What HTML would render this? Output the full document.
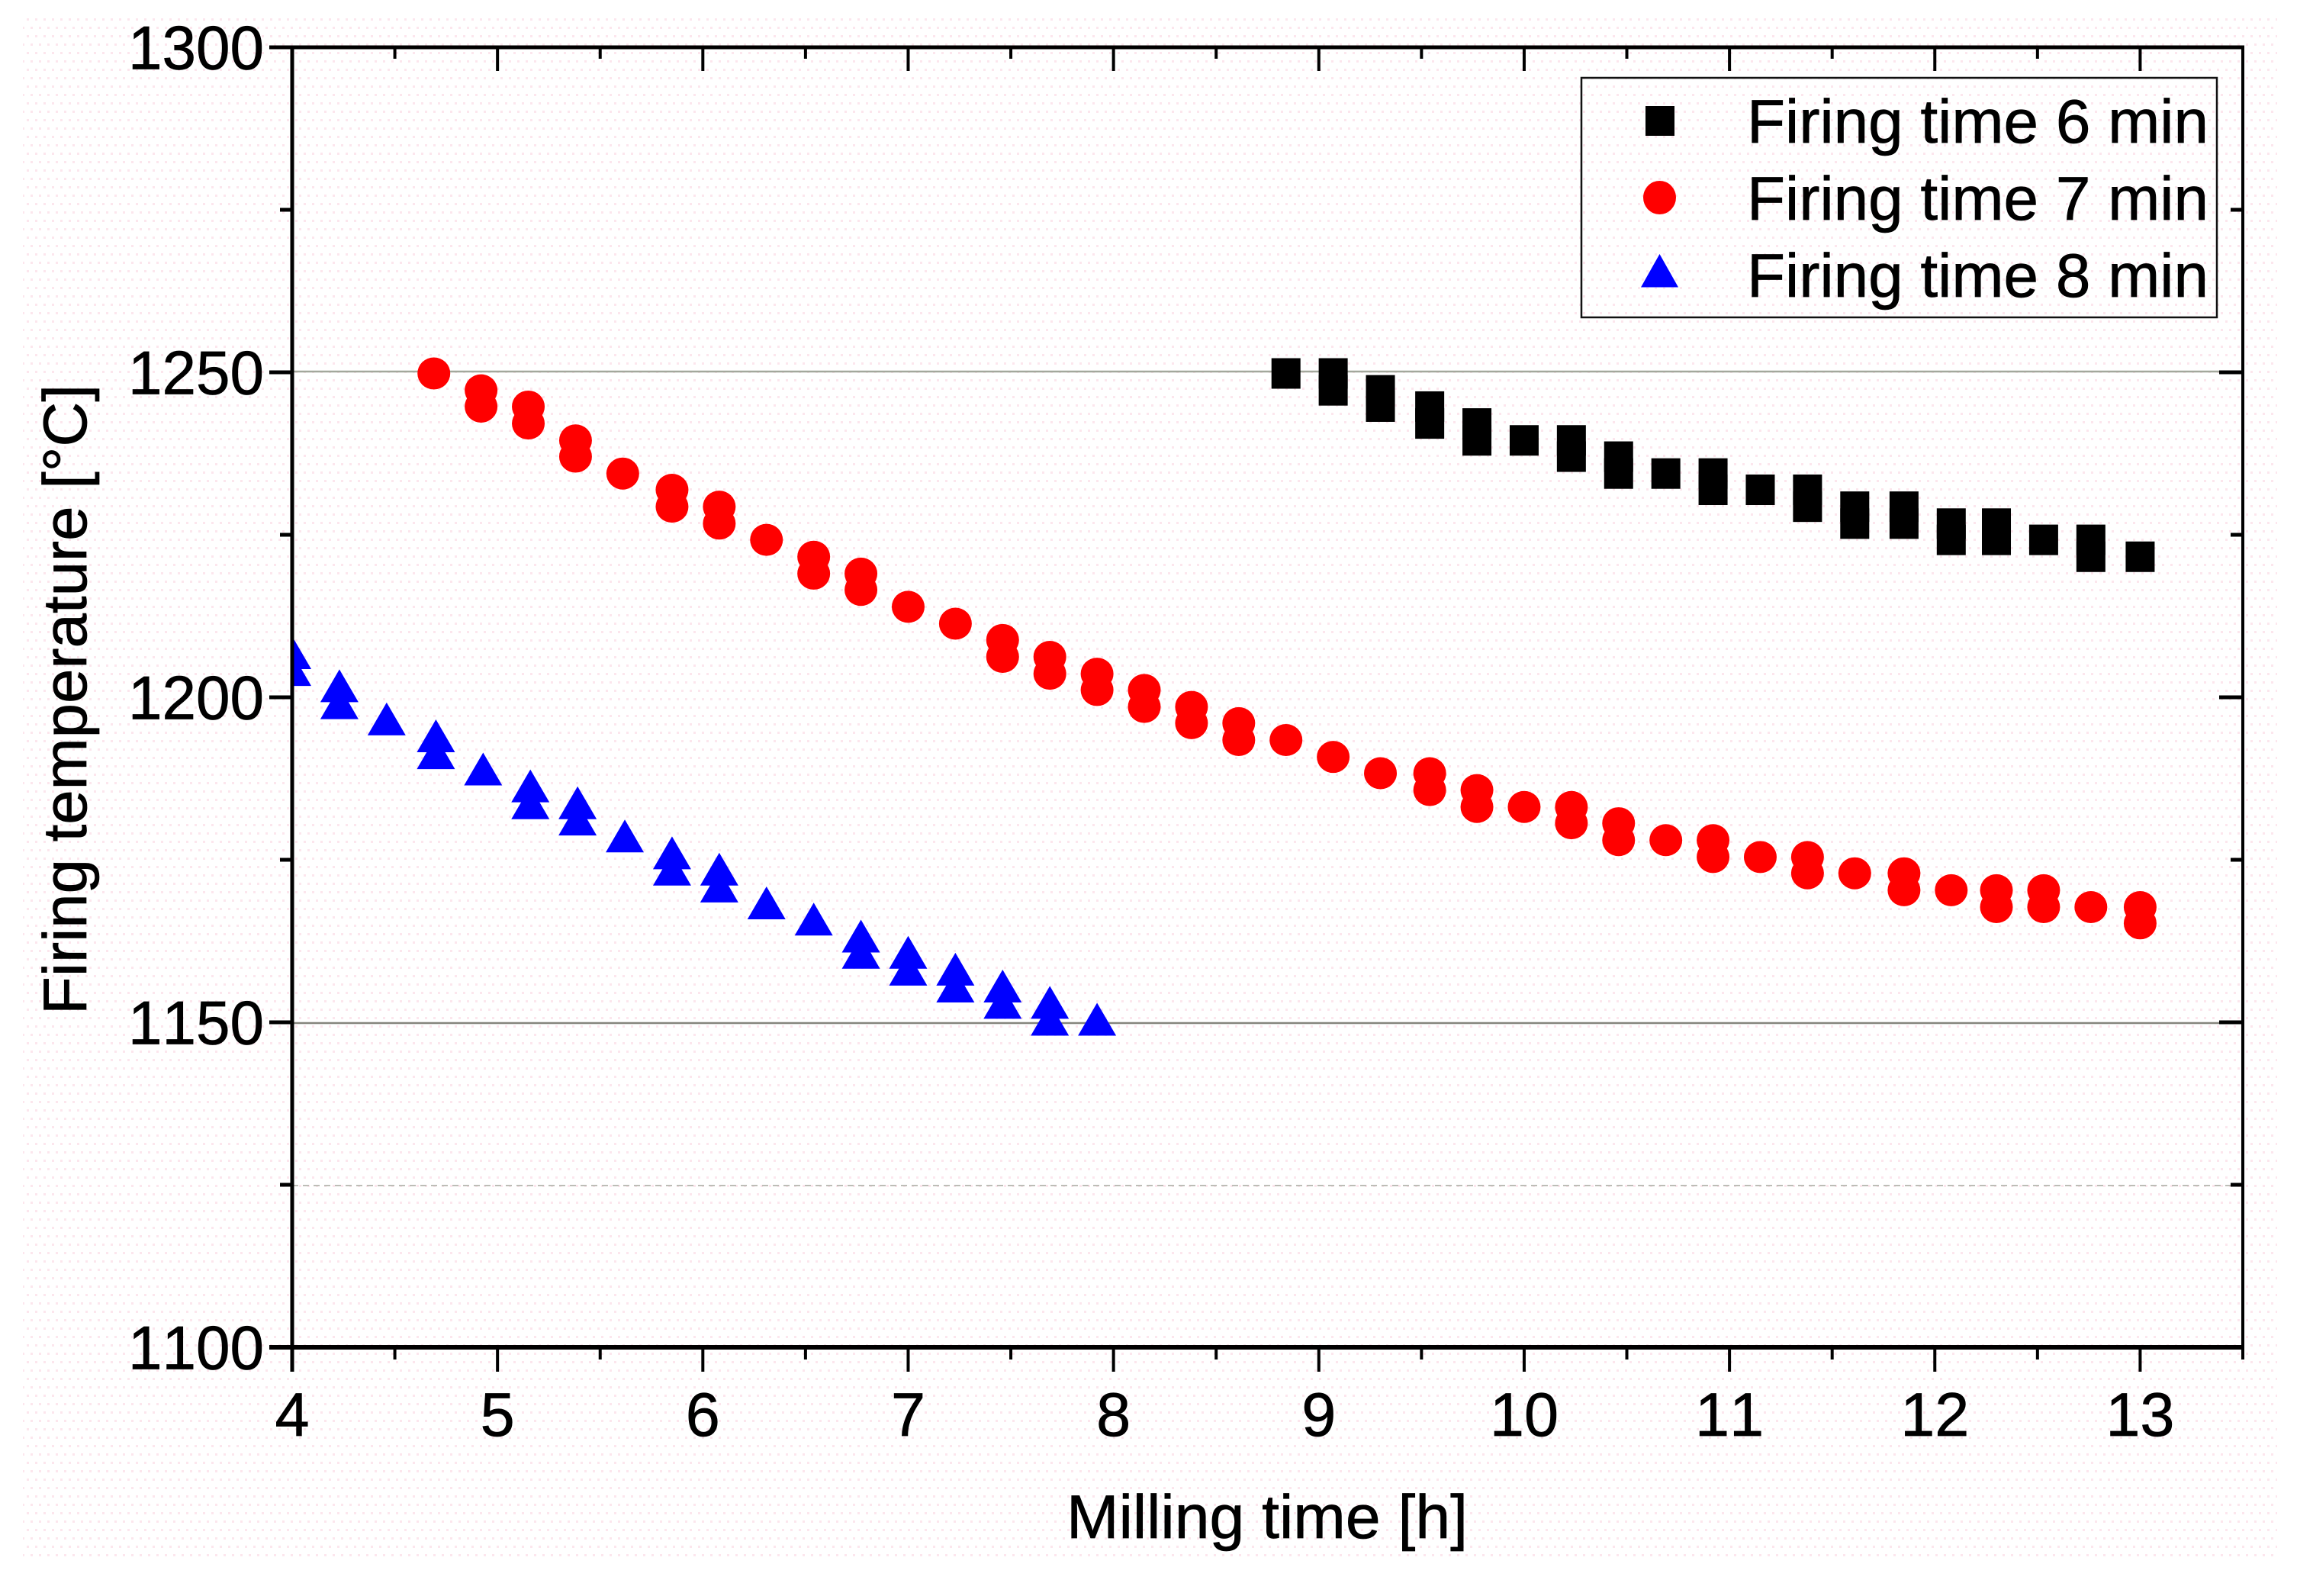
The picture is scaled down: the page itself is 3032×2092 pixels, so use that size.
<!DOCTYPE html>
<html lang="en">
<head>
<meta charset="utf-8">
<title>Firing temperature vs milling time</title>
<style>
html,body{margin:0;padding:0;background:#fff;}
svg{display:block;}
text{font-family:"Liberation Sans",Arial,sans-serif;fill:#000;font-size:81px;font-kerning:none;stroke:#000;stroke-width:.7px;}
</style>
</head>
<body>
<svg id="chart" xmlns="http://www.w3.org/2000/svg" width="3032" height="2092" viewBox="0 0 3032 2092">
  <defs>
    <pattern id="dither" width="22" height="22" patternUnits="userSpaceOnUse">
      <rect x="2" y="2" width="3" height="3" fill="#fce6ed"/>
      <rect x="13" y="2" width="3" height="3" fill="#fce6ed"/>
      <rect x="7" y="13" width="3" height="3" fill="#fce6ed"/>
      <rect x="18" y="13" width="3" height="3" fill="#fce6ed"/>
    </pattern>
    <clipPath id="plot-clip"><rect x="383" y="62" width="2557" height="1704"/></clipPath>
  </defs>
  <rect x="0" y="0" width="3032" height="2092" fill="#fff"/>
  <rect x="30" y="23" width="2955" height="2022" fill="url(#dither)"/>
  <g id="grid"></g>
  <g id="marks" clip-path="url(#plot-clip)"></g>
  <g id="axes"></g>
  <text x="1398" y="2016" textLength="526" lengthAdjust="spacingAndGlyphs">Milling time [h]</text>
  <text transform="translate(113,1330) rotate(-90)" x="0" y="0" textLength="826" lengthAdjust="spacingAndGlyphs">Firing temperature [°C]</text>
  <g>
    <rect x="2073" y="102" width="833" height="314" fill="none" stroke="#111" stroke-width="2.5"/>
    <rect x="2157" y="139" width="38" height="39" fill="#000"/>
    <ellipse cx="2175.5" cy="259" rx="21.5" ry="22" fill="#f00"/>
    <polygon points="2175.5,333 2200,376.5 2151,376.5" fill="#00f"/>
    <text x="2290" y="187" textLength="605" lengthAdjust="spacingAndGlyphs">Firing time 6 min</text>
    <text x="2290" y="288" textLength="605" lengthAdjust="spacingAndGlyphs">Firing time 7 min</text>
    <text x="2290" y="389" textLength="605" lengthAdjust="spacingAndGlyphs">Firing time 8 min</text>
  </g>
</svg>
<script>
const xTickLabels = [4, 5, 6, 7, 8, 9, 10, 11, 12, 13];
const xMinorTicks = [4.5, 5.5, 6.5, 7.5, 8.5, 9.5, 10.5, 11.5, 12.5, 13.5];
const yTickLabels = [1100, 1150, 1200, 1250, 1300];
const yMinorTicks = [1125, 1175, 1225, 1275];

const time6 = [8.84, 9.07, 9.07, 9.30, 9.30, 9.54, 9.54, 9.77, 9.77, 10.00, 10.23, 10.23, 10.46, 10.46, 10.69, 10.92, 10.92, 11.15, 11.38, 11.38, 11.61, 11.61, 11.85, 11.85, 12.08, 12.08, 12.30, 12.30, 12.53, 12.76, 12.76, 13.00];
const temp6 = [1250.0, 1250.0, 1247.4, 1247.4, 1244.9, 1244.9, 1242.3, 1242.3, 1239.7, 1239.7, 1239.7, 1237.2, 1237.2, 1234.6, 1234.6, 1234.6, 1232.1, 1232.1, 1232.1, 1229.5, 1229.5, 1226.9, 1229.5, 1226.9, 1226.9, 1224.4, 1226.9, 1224.4, 1224.4, 1224.4, 1221.8, 1221.8];

const time7 = [4.69, 4.92, 4.92, 5.15, 5.15, 5.38, 5.38, 5.61, 5.85, 5.85, 6.08, 6.08, 6.31, 6.54, 6.54, 6.77, 6.77, 7.00, 7.23, 7.46, 7.46, 7.69, 7.69, 7.92, 7.92, 8.15, 8.15, 8.38, 8.38, 8.61, 8.61, 8.84, 9.07, 9.30, 9.54, 9.54, 9.77, 9.77, 10.00, 10.23, 10.23, 10.46, 10.46, 10.69, 10.92, 10.92, 11.15, 11.38, 11.38, 11.61, 11.85, 11.85, 12.08, 12.30, 12.30, 12.53, 12.53, 12.76, 13.00, 13.00];
const temp7 = [1250.0, 1247.4, 1244.9, 1244.9, 1242.3, 1239.7, 1237.2, 1234.6, 1232.1, 1229.5, 1229.5, 1226.9, 1224.4, 1221.8, 1219.2, 1219.2, 1216.7, 1214.1, 1211.5, 1209.0, 1206.4, 1206.4, 1203.8, 1203.8, 1201.3, 1201.3, 1198.7, 1198.7, 1196.2, 1196.2, 1193.6, 1193.6, 1191.0, 1188.5, 1188.5, 1185.9, 1185.9, 1183.3, 1183.3, 1183.3, 1180.8, 1180.8, 1178.2, 1178.2, 1178.2, 1175.6, 1175.6, 1175.6, 1173.1, 1173.1, 1173.1, 1170.5, 1170.5, 1170.5, 1167.9, 1170.5, 1167.9, 1167.9, 1167.9, 1165.4];

const time8 = [4.00, 4.00, 4.23, 4.23, 4.46, 4.70, 4.70, 4.93, 5.16, 5.16, 5.39, 5.39, 5.62, 5.85, 5.85, 6.08, 6.08, 6.31, 6.54, 6.77, 6.77, 7.00, 7.00, 7.23, 7.23, 7.46, 7.46, 7.69, 7.69, 7.92];
const temp8 = [1206.4, 1203.8, 1201.3, 1198.7, 1196.2, 1193.6, 1191.0, 1188.5, 1185.9, 1183.3, 1183.3, 1180.8, 1178.2, 1175.6, 1173.1, 1173.1, 1170.5, 1167.9, 1165.4, 1162.8, 1160.3, 1160.3, 1157.7, 1157.7, 1155.1, 1155.1, 1152.6, 1152.6, 1150.0, 1150.0];

const NS = 'http://www.w3.org/2000/svg';
const plotLeft = 383, plotRight = 2940, plotTop = 62, plotBottom = 1766;
const xMin = 4, xMax = 13.5, yMin = 1100, yMax = 1300;
const markShift = 1.5;
function xScale(v) { return plotLeft + (v - xMin) / (xMax - xMin) * (plotRight - plotLeft); }
function yScale(v) { return plotBottom - (v - yMin) / (yMax - yMin) * (plotBottom - plotTop); }

const gridGroup = document.getElementById('grid');
const marksGroup = document.getElementById('marks');
const axesGroup = document.getElementById('axes');

function line(parent, x1, y1, x2, y2, width, color) {
  const el = document.createElementNS(NS, 'line');
  el.setAttribute('x1', x1);
  el.setAttribute('y1', y1);
  el.setAttribute('x2', x2);
  el.setAttribute('y2', y2);
  el.setAttribute('stroke', color);
  el.setAttribute('stroke-width', width);
  parent.appendChild(el);
  return el;
}

/* reference lines */
const grid1250 = line(gridGroup, plotLeft, yScale(1250) - 1, plotRight, yScale(1250) - 1, 2.5, '#a3a89c');


const grid1150 = line(gridGroup, plotLeft, yScale(1150) + 1, plotRight, yScale(1150) + 1, 2.5, '#85857c');


const grid1125 = line(gridGroup, plotLeft, yScale(1125) + 1, plotRight, yScale(1125) + 1, 2, '#bdbdb6');
grid1125.setAttribute('stroke-dasharray', '8 6');



/* series */
time6.forEach(function (t, i) {
  const el = document.createElementNS(NS, 'rect');
  el.setAttribute('x', xScale(t) - 19);
  el.setAttribute('y', yScale(temp6[i]) + markShift - 20);
  el.setAttribute('width', 38);
  el.setAttribute('height', 40);
  el.setAttribute('fill', '#000');
  
  
  marksGroup.appendChild(el);
});
time7.forEach(function (t, i) {
  const el = document.createElementNS(NS, 'ellipse');
  el.setAttribute('cx', xScale(t));
  el.setAttribute('cy', yScale(temp7[i]) + markShift);
  el.setAttribute('rx', 21.5);
  el.setAttribute('ry', 21);
  el.setAttribute('fill', '#f00');
  
  
  marksGroup.appendChild(el);
});
time8.forEach(function (t, i) {
  const cx = xScale(t), cy = yScale(temp8[i]) + markShift;
  const el = document.createElementNS(NS, 'polygon');
  el.setAttribute('points', cx + ',' + (cy - 27) + ' ' + (cx + 25) + ',' + (cy + 16) + ' ' + (cx - 25) + ',' + (cy + 16));
  el.setAttribute('fill', '#00f');
  
  
  marksGroup.appendChild(el);
});

/* axis frame */
const axisLeft = line(axesGroup, plotLeft, plotTop - 2.5, plotLeft, plotBottom + 32, 5, '#000');


const axisRight = line(axesGroup, plotRight, plotTop - 2.5, plotRight, plotBottom + 14, 4, '#000');


const axisTop = line(axesGroup, plotLeft - 30, plotTop, plotRight + 2, plotTop, 5, '#000');


const axisBottom = line(axesGroup, plotLeft - 30, plotBottom, plotRight + 2, plotBottom, 6, '#000');



/* x ticks */
xTickLabels.forEach(function (v) {
  const x = xScale(v);
  const b = line(axesGroup, x, plotBottom, x, plotBottom + 32, 4, '#000');
  
  
  const t = line(axesGroup, x, plotTop, x, plotTop + 31, 4, '#000');
  
  
  const label = document.createElementNS(NS, 'text');
  label.setAttribute('x', x);
  label.setAttribute('y', 1882);
  label.setAttribute('text-anchor', 'middle');
  label.textContent = v;
  
  
  axesGroup.appendChild(label);
});
xMinorTicks.forEach(function (v) {
  const x = xScale(v);
  const b = line(axesGroup, x, plotBottom, x, plotBottom + 16, 4, '#000');
  
  
  const t = line(axesGroup, x, plotTop, x, plotTop + 15, 4, '#000');
  
  
});

/* y ticks */
yTickLabels.forEach(function (v) {
  const y = yScale(v);
  const l = line(axesGroup, plotLeft - 30, y, plotLeft, y, 5, '#000');
  
  
  const r = line(axesGroup, plotRight - 31, y, plotRight, y, 5, '#000');
  
  
  const label = document.createElementNS(NS, 'text');
  label.setAttribute('x', 346);
  label.setAttribute('y', y + 28.5);
  label.setAttribute('text-anchor', 'end');
  label.setAttribute('textLength', 178);
  label.setAttribute('lengthAdjust', 'spacingAndGlyphs');
  label.textContent = v;
  
  
  axesGroup.appendChild(label);
});
yMinorTicks.forEach(function (v) {
  const y = yScale(v);
  const l = line(axesGroup, plotLeft - 16, y, plotLeft, y, 5, '#000');
  
  
  const r = line(axesGroup, plotRight - 16, y, plotRight, y, 5, '#000');
  
  
});
</script>
</body>
</html>
